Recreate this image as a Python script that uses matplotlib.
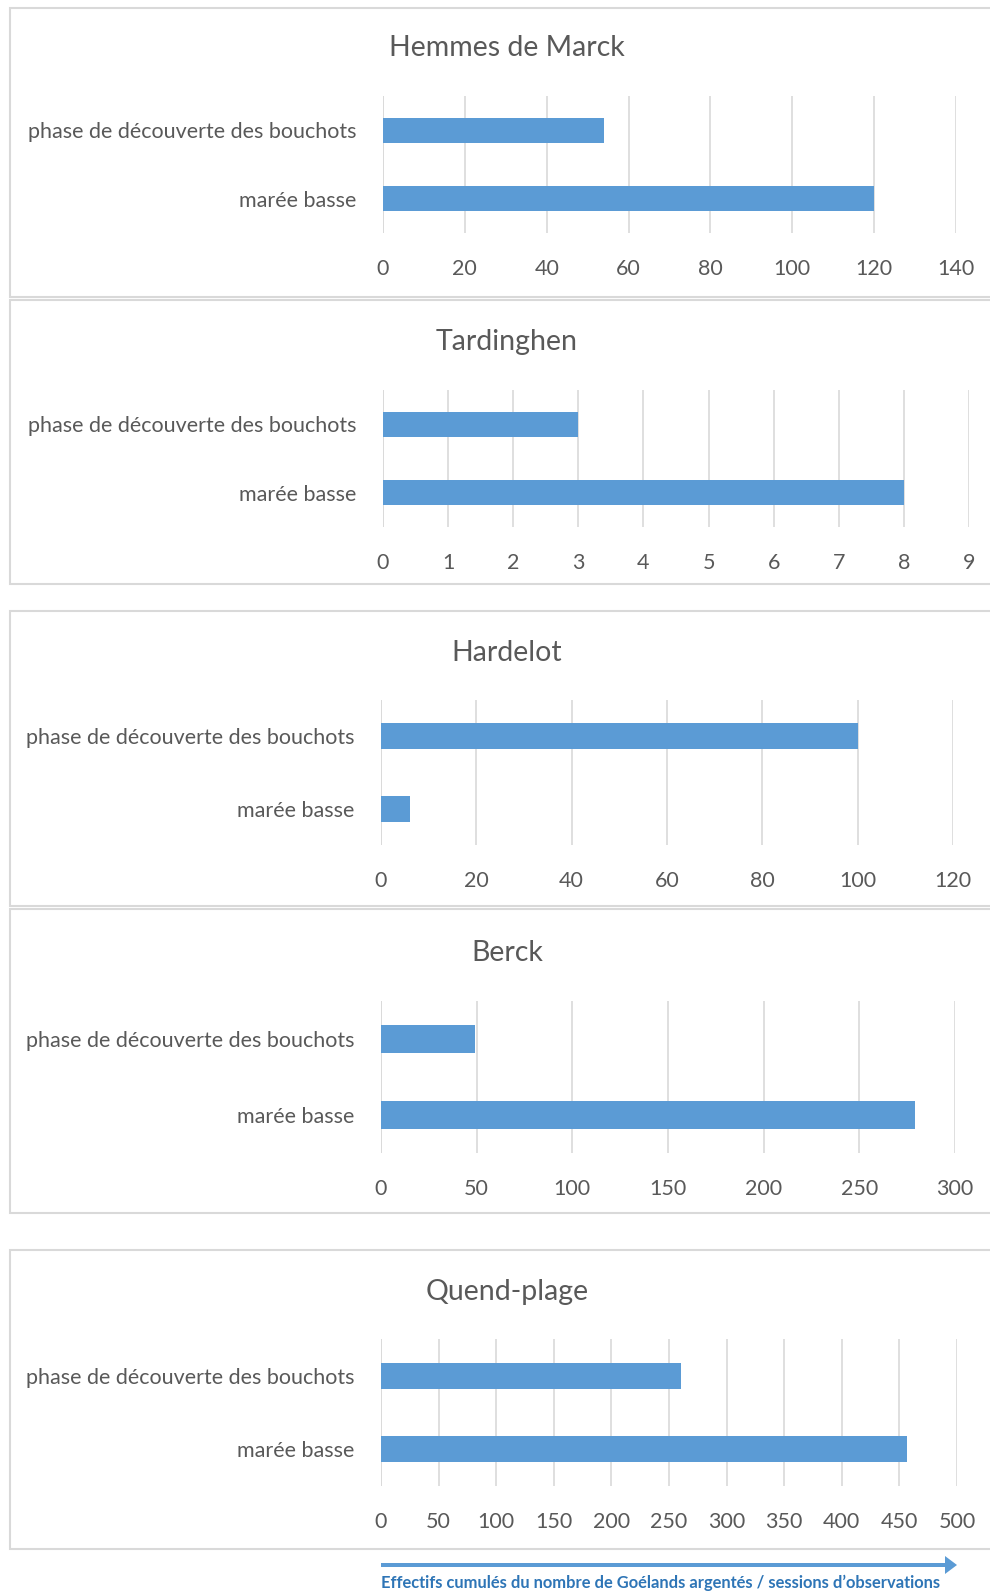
import matplotlib
matplotlib.use("Agg")
import matplotlib.pyplot as plt
from matplotlib.patches import Rectangle, FancyArrow
import numpy as np

plt.rcParams['font.family'] = ['Lato', 'DejaVu Sans']

# counts per site: gulls summed over observation sessions
sites = ["Hemmes de Marck", "Tardinghen", "Hardelot", "Berck", "Quend-plage"]
categories = ["marée basse", "phase de découverte des bouchots"]
maree_basse = [120, 8, 6, 279, 457]
decouverte = [54, 3, 100, 49, 260]
x_max = [140, 9, 120, 300, 500]
x_step = [20, 1, 20, 50, 50]
footer = "Effectifs cumulés du nombre de Goélands argentés / sessions d\u2019observations"

W, H = 990, 1591
BLUE = "#5b9bd5"
GREY_TXT = "#595959"
GRID = "#d9d9d9"

# pixel layout: frame (top, bottom), plot area (left, right, top, bottom), title y
frames = [(8, 297), (300, 584), (611, 906), (909, 1213), (1250, 1549)]
plot_boxes = [(383, 956, 96, 233), (383, 969, 390, 527), (381, 953, 700, 845),
              (381, 955, 1001, 1153), (381, 957, 1339, 1486)]
title_y = [48, 342, 653, 953, 1292]
title_x = 507


def fig_box(l, r, t, b):
    return [l / W, 1 - b / H, (r - l) / W, (b - t) / H]


fig = plt.figure(figsize=(W / 100, H / 100), dpi=100)
bg = fig.add_axes([0, 0, 1, 1])
bg.set_xlim(0, W)
bg.set_ylim(H, 0)
bg.axis("off")

for (ft, fb) in frames:
    bg.add_patch(Rectangle((10, ft), 1000, fb - ft, facecolor="white",
                           edgecolor=GRID, lw=1.5))

for i, site in enumerate(sites):
    l, r, t, b = plot_boxes[i]
    ax = fig.add_axes(fig_box(l, r, t, b))
    ypos = np.arange(len(categories))
    ax.barh(ypos, [maree_basse[i], decouverte[i]], height=0.36, color=BLUE, zorder=3)
    ax.set_ylim(-0.5, 1.5)
    ax.set_xlim(0, x_max[i])
    ax.set_xticks(np.arange(0, x_max[i] + x_step[i] / 2, x_step[i]))
    ax.set_yticks(ypos)
    ax.set_yticklabels(categories)
    ax.tick_params(axis="both", length=0, labelsize=15.5, colors=GREY_TXT)
    ax.tick_params(axis="x", pad=19)
    ax.tick_params(axis="y", pad=19)
    ax.grid(axis="x", color=GRID, lw=1.2, zorder=0)
    for s in ax.spines.values():
        s.set_visible(False)
    ax.axvline(0, color=GRID, lw=1.2, zorder=1)
    ax.patch.set_alpha(0)
    bg.text(title_x, title_y[i], site, ha="center", va="center",
            fontsize=20.5, color=GREY_TXT)

# arrow under the last chart
bg.add_patch(FancyArrow(381, 1565, 576, 0, width=4, head_width=18, head_length=12,
                        length_includes_head=True, color=BLUE, lw=0))
bg.text(381, 1583, footer, ha="left", va="center", fontsize=11.9,
        color="#2e75b6", fontweight="bold")

fig.savefig("out.png", dpi=100)
